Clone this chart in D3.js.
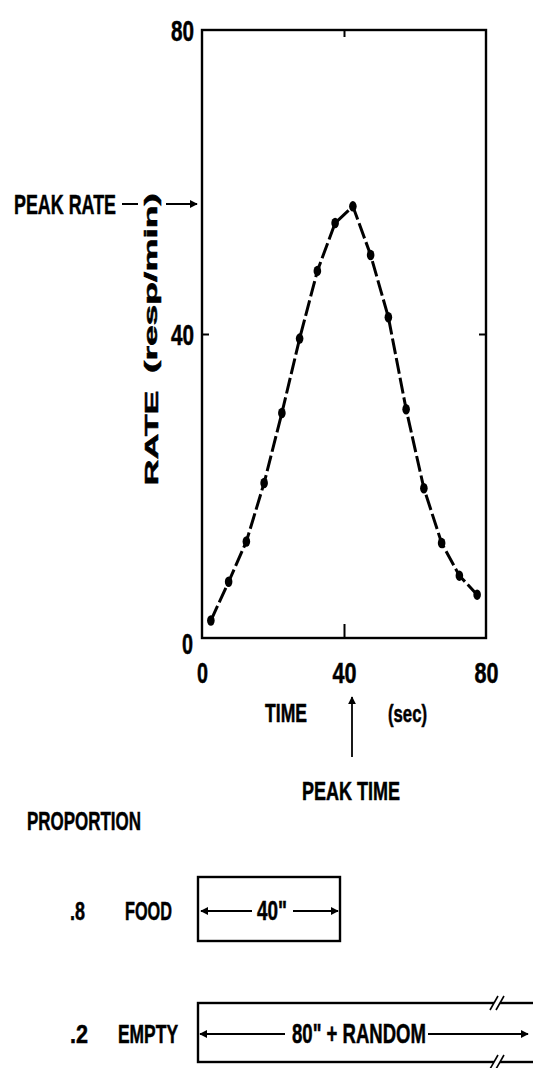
<!DOCTYPE html>
<html><head><meta charset="utf-8">
<script src="https://cdn.jsdelivr.net/npm/d3@7"></script>
<style>
html,body{margin:0;padding:0;background:#fff;}
svg{display:block;}
text{font-family:"Liberation Sans","Arial",sans-serif;font-weight:bold;fill:#000;stroke:#000;stroke-width:0.5px;}
</style></head>
<body>
<script>
// ---- data ----
const times = [2.5, 7.5, 12.5, 17.5, 22.5, 27.5, 32.5, 37.5, 42.5, 47.5, 52.5, 57.5, 62.5, 67.5, 72.5, 77.5];
const rates = [2.3, 7.4, 12.7, 20.4, 29.6, 39.4, 48.3, 54.6, 56.8, 50.4, 42.2, 30.1, 19.7, 12.5, 8.2, 5.7];
const xTicks = [0, 40, 80];
const yTicks = [0, 40, 80];
const xTickLabels = ["0", "40", "80"];
const yTickLabels = ["0", "40", "80"];
const proportions = [".8", ".2"];
const outcomes = ["FOOD", "EMPTY"];
const intervals = ["40\"", "80\" + RANDOM"];

(function(){
const W = 533, H = 1068;
const svg = d3.select("body").append("svg").attr("width", W).attr("height", H);

const defs = svg.append("defs");
defs.append("marker").attr("id","ah").attr("viewBox","0 0 10 10").attr("refX",9).attr("refY",5)
  .attr("markerWidth",8).attr("markerHeight",8).attr("markerUnits","userSpaceOnUse").attr("orient","auto-start-reverse")
  .append("path").attr("d","M0,0 L10,5 L0,10 Z").attr("fill","#000");

const pL = 202, pR = 486, pT = 30, pB = 638;
const x = d3.scaleLinear().domain([0, 80]).range([pL, pR]);
const y = d3.scaleLinear().domain([0, 80]).range([pB, pT]);

function txt(g, s, px, py, w, fs, anchor) {
  return g.append("text").attr("x", px).attr("y", py).attr("font-size", fs)
    .attr("text-anchor", anchor || "start")
    .attr("textLength", w).attr("lengthAdjust", "spacingAndGlyphs").text(s);
}

// frame
svg.append("rect").attr("x", pL).attr("y", pT).attr("width", pR-pL).attr("height", pB-pT)
  .attr("fill","none").attr("stroke","#000").attr("stroke-width",2.4);

// axes
const yAxis = d3.axisLeft(y).tickValues(yTicks).tickSize(-7).tickPadding(8).tickFormat((d,i)=>yTickLabels[i]);
const gy = svg.append("g").attr("transform",`translate(${pL},0)`).call(yAxis);
gy.select(".domain").remove();
gy.selectAll(".tick line").attr("stroke","#000").attr("stroke-width",2).filter(d=>d!==40).remove();
gy.selectAll(".tick text").attr("font-size",30).attr("font-family",null).attr("dy","0.36em")
  .attr("textLength",(d)=>d===0?11:23).attr("lengthAdjust","spacingAndGlyphs")
  .attr("x",(d)=>d===0?-9:-8).attr("y",(d)=>d===0?5:0);

const yAxisR = d3.axisRight(y).tickValues([40]).tickSize(-7).tickFormat("");
const gyr = svg.append("g").attr("transform",`translate(${pR},0)`).call(yAxisR);
gyr.select(".domain").remove();
gyr.selectAll(".tick line").attr("stroke","#000").attr("stroke-width",2);

const xAxis = d3.axisBottom(x).tickValues(xTicks).tickSize(-14).tickPadding(24).tickFormat((d,i)=>xTickLabels[i]);
const gx = svg.append("g").attr("transform",`translate(0,${pB})`).call(xAxis);
gx.select(".domain").remove();
gx.selectAll(".tick line").attr("stroke","#000").attr("stroke-width",2).filter(d=>d!==40).remove();
gx.selectAll(".tick text").attr("font-size",30).attr("font-family",null)
  .attr("textLength",(d)=>d===0?11:24).attr("lengthAdjust","spacingAndGlyphs");

const xAxisT = d3.axisTop(x).tickValues([40]).tickSize(-7).tickFormat("");
const gxt = svg.append("g").attr("transform",`translate(0,${pT})`).call(xAxisT);
gxt.select(".domain").remove();
gxt.selectAll(".tick line").attr("stroke","#000").attr("stroke-width",2);

// curve
const pts = times.map((t,i)=>[t, rates[i]]);
svg.append("path").datum(pts)
  .attr("d", d3.line().x(d=>x(d[0])).y(d=>y(d[1])))
  .attr("fill","none").attr("stroke","#000").attr("stroke-width",3)
  .attr("stroke-dasharray","16 4");
svg.append("g").selectAll("ellipse").data(pts).join("ellipse")
  .attr("cx",d=>x(d[0])).attr("cy",d=>y(d[1])).attr("rx",3.8).attr("ry",5.2).attr("fill","#000");

// y label (rotated)
svg.append("text").attr("transform","translate(158,438) rotate(-90)").attr("text-anchor","middle")
  .attr("font-size",19).attr("textLength",95).attr("lengthAdjust","spacingAndGlyphs").text("RATE");
svg.append("text").attr("transform","translate(157,283) rotate(-90)").attr("text-anchor","middle")
  .attr("font-size",18).attr("textLength",180).attr("lengthAdjust","spacingAndGlyphs").text("(resp/min)");

// peak rate annotation
txt(svg, "PEAK RATE", 14, 214, 102, 28);
svg.append("line").attr("x1",122).attr("x2",138).attr("y1",204).attr("y2",204).attr("stroke","#000").attr("stroke-width",2);
svg.append("line").attr("x1",166).attr("x2",197).attr("y1",204).attr("y2",204).attr("stroke","#000").attr("stroke-width",2)
  .attr("marker-end","url(#ah)");

// time label and peak time
txt(svg, "TIME", 265, 722, 42, 25);
txt(svg, "(sec)", 388, 722, 39, 23);
svg.append("line").attr("x1",352).attr("x2",352).attr("y1",757).attr("y2",697).attr("stroke","#000").attr("stroke-width",1.8)
  .attr("marker-end","url(#ah)");
txt(svg, "PEAK TIME", 302, 800, 98, 26);

// proportion section
txt(svg, "PROPORTION", 27, 830, 114, 26);

const rowY = [910, 1033];
const boxL = 198;
const boxR = [340, 560];
const boxT = [877, 1003];
const boxB = [941, 1062];
const textX = [[125,47],[118,60]];
const intTxt = [[257,30],[292,134]];
const arrL = [[201,252],[200,285]];
const arrR = [[293,338],[428,528]];

proportions.forEach((p,i)=>{
  txt(svg, p, 70, rowY[i]+10, i===0?15:18, 26);
  txt(svg, outcomes[i], textX[i][0], rowY[i]+10, textX[i][1], 26);
  svg.append("rect").attr("x",boxL).attr("y",boxT[i]).attr("width",boxR[i]-boxL).attr("height",boxB[i]-boxT[i])
    .attr("fill","none").attr("stroke","#000").attr("stroke-width",2.4);
  txt(svg, intervals[i], intTxt[i][0], rowY[i]+10, intTxt[i][1], 28);
  svg.append("line").attr("x1",arrL[i][1]).attr("x2",arrL[i][0]).attr("y1",rowY[i]+1).attr("y2",rowY[i]+1)
    .attr("stroke","#000").attr("stroke-width",2.2).attr("marker-end","url(#ah)");
  svg.append("line").attr("x1",arrR[i][0]).attr("x2",arrR[i][1]).attr("y1",rowY[i]+1).attr("y2",rowY[i]+1)
    .attr("stroke","#000").attr("stroke-width",2.2).attr("marker-end","url(#ah)");
});

// break marks on the long box
[1003, 1062].forEach(by=>{
  svg.append("rect").attr("x",494).attr("y",by-3).attr("width",6).attr("height",6).attr("fill","#fff");
  [-3,3].forEach(dx=>{
    svg.append("line").attr("x1",497+dx-4).attr("x2",497+dx+4).attr("y1",by+7).attr("y2",by-7)
      .attr("stroke","#000").attr("stroke-width",1.6);
  });
});
})();
</script>
</body></html>
